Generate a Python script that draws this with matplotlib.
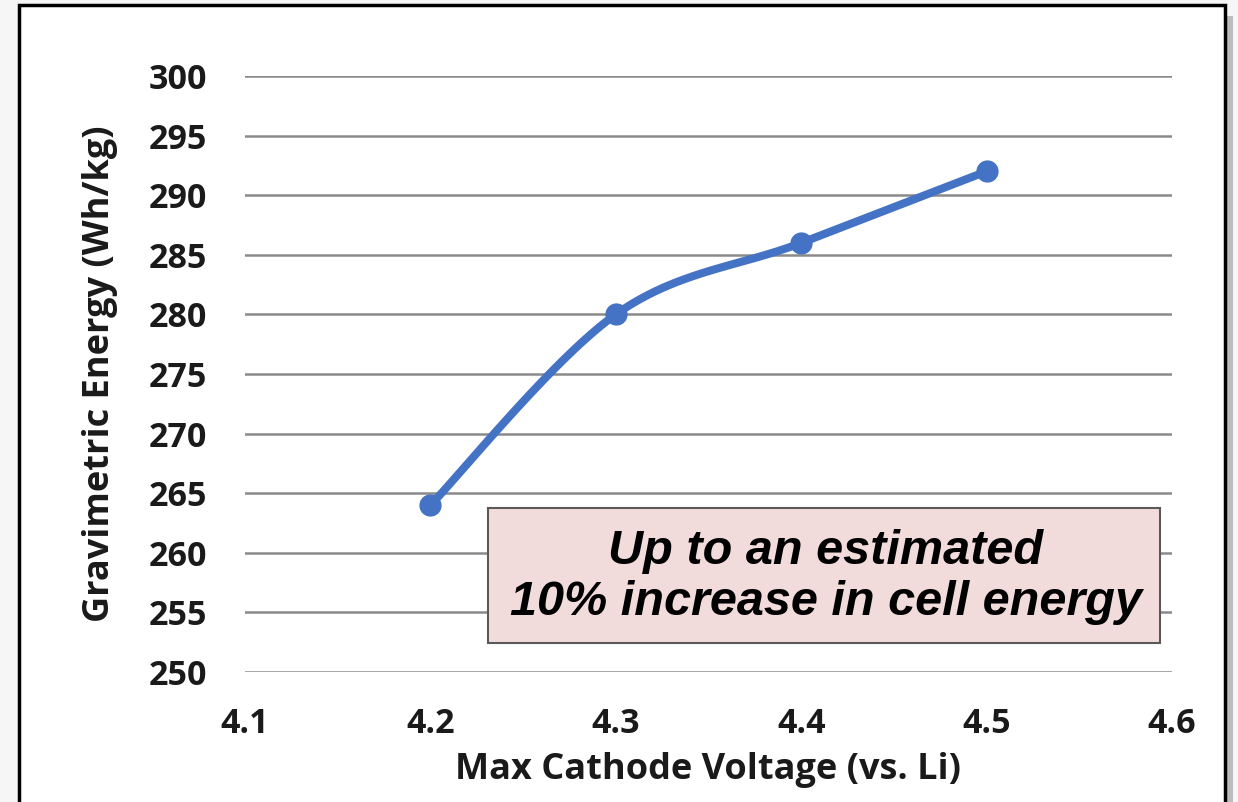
import numpy as np
import matplotlib
matplotlib.use('Agg')
from matplotlib import pyplot as plt
from matplotlib.patches import Rectangle

voltage = [4.2, 4.3, 4.4, 4.5]
energy = [264, 280, 286, 292]
xticks = [4.1, 4.2, 4.3, 4.4, 4.5, 4.6]
yticks = list(range(250, 301, 5))
note = 'Up to an estimated\n10% increase in cell energy'

W, H = 1238, 802


def smooth(xs, ys, sx, sy, n = 40):
    # Bezier smoothing through the points, done in screen-like units
    p = np.column_stack([np.asarray(xs) * sx, np.asarray(ys) * sy])
    p = np.vstack([p[0], p, p[-1]])
    out = []
    for i in range(1, len(p) - 2):
        p0, p1, p2, p3 = p[i], p[i] + (p[i + 1] - p[i - 1]) / 6, p[i + 1] - (p[i + 2] - p[i]) / 6, p[i + 1]
        t = np.linspace(0, 1, n)[:, None]
        seg = (1 - t) ** 3 * p0 + 3 * (1 - t) ** 2 * t * p1 + 3 * (1 - t) * t ** 2 * p2 + t ** 3 * p3
        out.append(seg if i == 1 else seg[1:])
    out = np.vstack(out)
    return out[:, 0] / sx, out[:, 1] / sy


fig = plt.figure(figsize = (W / 100, H / 100), dpi = 100, facecolor = '#f6f6f6')

# framed white panel with a soft shadow on the right
fig.patches.append(Rectangle((25 / W, -0.02), 1208 / W, 1, transform = fig.transFigure,
                             facecolor = '#bdbdbd', edgecolor = 'none', zorder = -3))
fig.patches.append(Rectangle((19 / W, -0.02), 1206 / W, (H - 5) / H + 0.02, transform = fig.transFigure,
                             facecolor = 'white', edgecolor = 'black', linewidth = 2.5, zorder = -2))

ax = fig.add_axes([245 / W, (H - 672) / H, 927 / W, 596 / H])
ax.set_facecolor('none')
ax.set_xlim(4.1, 4.6)
ax.set_ylim(250, 300)
ax.set_xticks(xticks)
ax.set_yticks(yticks)
ax.set_xticklabels([f'{v:.1f}' for v in xticks])
for s in ax.spines.values():
    s.set_visible(False)
ax.tick_params(length = 0, labelsize = 24.5, pad = 25)
ax.tick_params(axis = 'y', pad = 27)
for lab in ax.get_xticklabels() + ax.get_yticklabels():
    lab.set_fontfamily('Open Sans')
    lab.set_fontweight('bold')
    lab.set_color('#1a1a1a')

ax.grid(axis = 'y', color = '#8a8a8a', linewidth = 1.8, zorder = 0)
ax.set_axisbelow(True)

sx, sy = 927 / 0.5, 596 / 50
cx, cy = smooth(voltage, energy, sx, sy)
ax.plot(cx, cy, color = '#4472c4', linewidth = 5.8, solid_capstyle = 'round', zorder = 3, clip_on = False)
ax.plot(voltage, energy, 'o', color = '#4472c4', markersize = 15, zorder = 4, clip_on = False)

ax.set_xlabel('Max Cathode Voltage (vs. Li)', fontsize = 26, fontfamily = 'Open Sans',
              fontweight = 'bold', color = '#1a1a1a', labelpad = 8)
ax.set_ylabel('Gravimetric Energy (Wh/kg)', fontsize = 26, fontfamily = 'Open Sans',
              fontweight = 'bold', color = '#1a1a1a', labelpad = 22)

# callout box
fig.patches.append(Rectangle((488 / W, (H - 643) / H), 672 / W, 135 / H, transform = fig.transFigure,
                             facecolor = '#f2dcdb', edgecolor = '#595959', linewidth = 1.5, zorder = 5))
fig.text(826 / W, (H - 577) / H, note, ha = 'center', va = 'center', fontsize = 35,
         fontfamily = 'Liberation Sans', fontweight = 'bold', fontstyle = 'italic',
         linespacing = 1.17, zorder = 6)

fig.savefig('out.png', dpi = 100, facecolor = fig.get_facecolor())
